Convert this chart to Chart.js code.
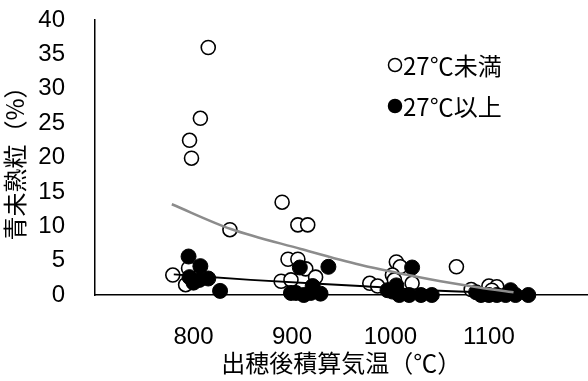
<!DOCTYPE html>
<html>
<head>
<meta charset="utf-8">
<script src="https://cdn.jsdelivr.net/npm/chart.js@4"></script>
<style>
  html, body { margin: 0; padding: 0; background: #fff; overflow: hidden; }
  #wrap { width: 588px; height: 381px; overflow: hidden; }
</style>
</head>
<body>
<div id="wrap"><canvas id="chart1" width="596" height="381"></canvas></div>
<script>
// 27℃未満（白丸）
const below27X = [815, 807, 796, 798, 837, 890, 906, 916, 896, 906, 914, 924, 889, 899, 779, 792, 795,
                  1006, 1010, 1002, 979, 987, 1022, 1004, 1067, 1082, 1100, 1108, 1103];
const below27Y = [36.0, 25.7, 22.5, 19.9, 9.5, 13.5, 10.2, 10.2, 5.2, 5.2, 3.8, 2.6, 2.0, 2.2, 2.9, 1.5, 3.9,
                  4.8, 4.1, 2.9, 1.7, 1.3, 1.7, 2.2, 4.1, 0.8, 1.3, 1.2, 0.7];

// 27℃以上（黒丸）
const above27X = [795, 807, 796, 806, 815, 800, 827, 908, 937, 921, 904, 912, 919, 929, 899,
                  1022, 997, 1006, 1009, 1019, 1031, 1042, 1002, 1087, 1092, 1100, 1108, 1117, 1122, 1127, 1140];
const above27Y = [5.6, 4.2, 2.6, 2.2, 2.4, 1.8, 0.6, 4.0, 4.1, 1.3, 0.3, 0.0, 0.3, 0.2, 0.3,
                  4.0, 0.7, 1.4, 0.0, 0.0, 0.0, 0.0, 0.5, 0.4, 0.0, 0.0, 0.0, 0.0, 0.7, 0.0, 0.0];

// 近似曲線
const trendBelowX = [778, 838, 909, 969, 1040, 1090, 1125];
const trendBelowY = [13.2, 9.6, 6.7, 4.4, 2.3, 1.1, 0.4];
const trendAboveX = [780, 858, 969, 1040, 1120];
const trendAboveY = [3.0, 2.2, 1.3, 0.7, 0.25];

const xTicks = [800, 900, 1000, 1100];
const legendLabels = ['27℃未満', '27℃以上'];

const toPoints = (xs, ys) => xs.map((x, i) => ({ x: x, y: ys[i] }));

const jpFont = "'Noto Sans CJK JP', 'Liberation Sans', sans-serif";
const numFont = "'Liberation Sans', Arial, sans-serif";

// 凡例（グラフ内に描く）
const legendPlugin = {
    id: 'innerLegend',
    afterDraw(chart) {
        const ctx = chart.ctx;
        ctx.save();
        const items = [
            { y: 65, fill: '#fff' },
            { y: 106, fill: '#000' }
        ];
        items.forEach((it, i) => {
            ctx.beginPath();
            ctx.arc(395, it.y, 6.5, 0, Math.PI * 2);
            ctx.fillStyle = it.fill;
            ctx.fill();
            ctx.lineWidth = 1.5;
            ctx.strokeStyle = '#000';
            ctx.stroke();
            ctx.fillStyle = '#000';
            ctx.font = "24px " + jpFont;
            ctx.textBaseline = 'middle';
            ctx.textAlign = 'left';
            ctx.fillText(legendLabels[i], 403, it.y + 1);
        });
        ctx.restore();
    }
};

const ctx = document.getElementById('chart1').getContext('2d');
new Chart(ctx, {
    type: 'scatter',
    data: {
        datasets: [
            {
                label: 'trendBelow',
                type: 'line',
                data: toPoints(trendBelowX, trendBelowY),
                borderColor: '#8c8c8c',
                borderWidth: 2.5,
                pointRadius: 0,
                fill: false,
                cubicInterpolationMode: 'monotone',
                order: 0
            },
            {
                label: 'trendAbove',
                type: 'line',
                data: toPoints(trendAboveX, trendAboveY),
                borderColor: '#000',
                borderWidth: 2,
                pointRadius: 0,
                fill: false,
                cubicInterpolationMode: 'monotone',
                order: 0
            },
            {
                label: legendLabels[1],
                data: toPoints(above27X, above27Y),
                pointRadius: 7.5,
                pointBackgroundColor: '#000',
                pointBorderColor: '#000',
                pointBorderWidth: 1,
                clip: false,
                order: 1
            },
            {
                label: legendLabels[0],
                data: toPoints(below27X, below27Y),
                pointRadius: 7,
                pointBackgroundColor: '#fff',
                pointBorderColor: '#000',
                pointBorderWidth: 1.6,
                clip: false,
                order: 2
            }
        ]
    },
    options: {
        responsive: false,
        animation: false,
        layout: { padding: { top: 20, right: 0, left: 0, bottom: 0 } },
        plugins: {
            legend: { display: false },
            tooltip: { enabled: false }
        },
        scales: {
            x: {
                type: 'linear',
                min: 700,
                max: 1200,
                grid: { display: false },
                border: { color: '#000', width: 1.5 },
                afterBuildTicks: (scale) => {
                    scale.ticks = [700].concat(xTicks, [1200]).map(v => ({ value: v }));
                },
                ticks: {
                    color: '#000',
                    padding: 20,
                    font: { family: numFont, size: 24 },
                    callback: (v) => xTicks.includes(v) ? String(v) : ''
                },
                title: {
                    display: true,
                    text: '出穂後積算気温（℃）',
                    color: '#000',
                    font: { family: jpFont, size: 24 },
                    padding: { top: 0, bottom: 4 }
                },
                afterFit: (scale) => {
                    scale.height = 86;
                    scale.paddingLeft = 0;
                    scale.paddingRight = 0;
                }
            },
            y: {
                min: 0,
                max: 40,
                grid: { display: false },
                border: { color: '#000', width: 1.5 },
                ticks: {
                    stepSize: 5,
                    color: '#000',
                    padding: 22,
                    font: { family: numFont, size: 24 }
                },
                title: {
                    display: true,
                    text: '青未熟粒（%）',
                    color: '#000',
                    font: { family: jpFont, size: 24 },
                    padding: { top: 0, bottom: 4 }
                },
                afterFit: (scale) => {
                    scale.width = 95;
                    scale.paddingTop = 0;
                    scale.paddingBottom = 0;
                }
            }
        }
    },
    plugins: [legendPlugin]
});
</script>
</body>
</html>
